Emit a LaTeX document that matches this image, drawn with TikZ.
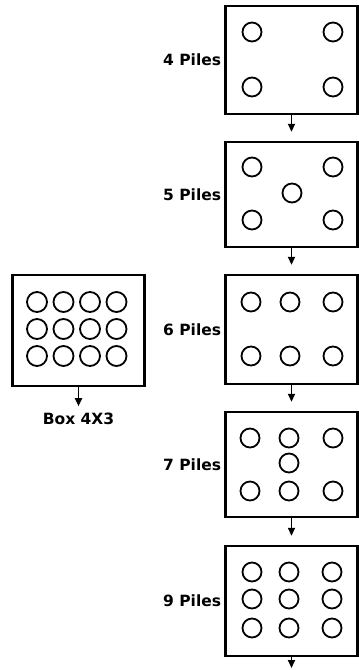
\documentclass[tikz,border=0pt]{standalone}
\usepackage{fontspec}
\setmainfont{DejaVu Sans}
\usetikzlibrary{arrows.meta,positioning}

\tikzset{
  pilebox/.style={draw,line width=2.4pt,minimum width=132pt,inner sep=0pt},
  pile/.style={line width=1.8pt},
  lab/.style={font=\bfseries\fontsize{15.5}{17}\selectfont,inner sep=0pt},
  flow/.style={-{Triangle[width=7pt,length=8pt]},line width=1.8pt,shorten >=9pt}
}

\begin{document}
\begin{tikzpicture}[x=1pt,y=-1pt]
  % units are pixels, y runs downwards
  \useasboundingbox (0,0) rectangle (359,670);
  \node[pilebox,minimum height=108pt] (b4) at (291.5,60) {};
  \node[pilebox,minimum height=105pt] (b5) at (291.5,194.5) {};
  \node[pilebox,minimum height=109pt] (b6) at (291.5,329.5) {};
  \node[pilebox,minimum height=105pt] (b7) at (291.5,464.5) {};
  \node[pilebox,minimum height=110pt] (b9) at (291.5,601) {};
  \node[pilebox,minimum height=111pt] (b43) at (78.5,330.5) {};
  \coordinate (end) at (291.5,670);
  % piles
  \foreach \x/\y in {252/32,333/32,252/87,333/87}
    \draw[pile] (\x,\y) circle (9.5pt);
  \foreach \x/\y in {252/167,333/167,292/193,252/220,333/220}
    \draw[pile] (\x,\y) circle (9.5pt);
  \foreach \x in {251,290,333}{
    \draw[pile] (\x,302) circle (9.5pt);
    \draw[pile] (\x,356) circle (9.5pt);}
  \foreach \x/\y in {250/438,289/438,333/438,289/463,250/491,289/491,333/491}
    \draw[pile] (\x,\y) circle (9.5pt);
  \foreach \x in {252,289,332}
    \foreach \y in {572,599,628}
      \draw[pile] (\x,\y) circle (9.5pt);
  \foreach \x in {37,63.5,90,116.5}
    \foreach \y in {302,329,356}
      \draw[pile] (\x,\y) circle (10pt);
  % labels
  \node[lab,left=3pt of b4.west] (l4) {4 Piles};
  \node[lab,left=3pt of b5.west] (l5) {5 Piles};
  \node[lab,left=3pt of b6.west] (l6) {6 Piles};
  \node[lab,left=3pt of b7.west] (l7) {7 Piles};
  \node[lab,left=3pt of b9.west] (l9) {9 Piles};
  \node[lab,below=26pt of b43.south] (l43) {Box 4X3};
  % arrows
  \draw[flow] (b4.south) -- (b5.north);
  \draw[flow] (b5.south) -- (b6.north);
  \draw[flow] (b6.south) -- (b7.north);
  \draw[flow] (b7.south) -- (b9.north);
  \draw[flow,shorten >=2pt] (b9.south) -- (end);
  \draw[flow,shorten >=7pt] (b43.south) -- (l43.north);
\end{tikzpicture}
\end{document}
